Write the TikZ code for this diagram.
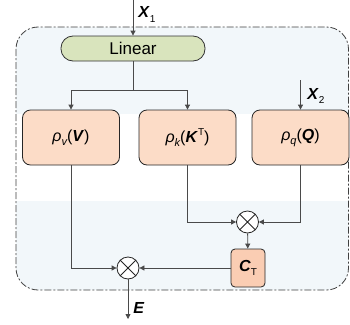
\documentclass[tikz,border=0pt]{standalone}
\usepackage{fontspec}
\setmainfont{Liberation Sans}
\usetikzlibrary{arrows.meta}
\definecolor{peach}{HTML}{FCDCC7}
\definecolor{peachd}{HTML}{FACDB3}
\definecolor{lingreen}{HTML}{D9E4BD}
\definecolor{bgblue}{HTML}{F2F7FA}
\definecolor{linegray}{HTML}{4A4A4A}
\newcommand{\lsub}[1]{\raisebox{-0.5ex}{\fontsize{10}{10}\selectfont\upshape\mdseries #1}}
\newcommand{\isub}[1]{\raisebox{-0.5ex}{\fontsize{11}{11}\selectfont\itshape #1}}
\newcommand{\lsup}[1]{\raisebox{0.8ex}{\fontsize{10}{10}\selectfont\upshape\mdseries #1}}
\newcommand{\bi}[1]{\textbf{\textit{#1}}}
\begin{document}
\begin{tikzpicture}[x=1pt,y=-1pt,
  line/.style={draw=linegray, line width=0.8pt},
  arr/.style={line, -{Triangle[length=5pt,width=5pt]}},
  pbox/.style={draw=black!85, fill=peach, rounded corners=8pt, line width=0.8pt,
    minimum width=97pt, minimum height=55pt, inner sep=0pt,
    font=\fontsize{16}{16}\selectfont},
  linbox/.style={draw=black!80, fill=lingreen, rounded corners=12pt, line width=0.8pt,
    minimum width=144pt, minimum height=25pt, inner sep=0pt,
    font=\fontsize{17}{17}\selectfont},
  ctbox/.style={draw=black!85, fill=peachd, rounded corners=4pt, line width=0.8pt,
    minimum width=34pt, minimum height=38pt, inner sep=0pt,
    font=\fontsize{16}{16}\selectfont},
  mult/.style={circle, draw=black!85, fill=white, line width=0.8pt,
    minimum size=22pt, inner sep=0pt,
    path picture={\draw[black!85, line width=0.8pt]
      (path picture bounding box.north west) -- (path picture bounding box.south east)
      (path picture bounding box.north east) -- (path picture bounding box.south west);}},
  lab/.style={font=\fontsize{16}{16}\selectfont, inner sep=0pt},
  frame/.style={draw=black!75, line width=0.8pt, dash pattern=on 7pt off 2pt on 2pt off 2pt,
    rounded corners=22pt}
]
\useasboundingbox (0,0) rectangle (350,324);
% background
\begin{scope}
  \clip[rounded corners=22pt] (16,27) rectangle (348.5,290);
  \fill[bgblue] (0,0) rectangle (350,324);
  \fill[white] (0,114) rectangle (350,201);
\end{scope}
\draw[frame] (16,27) rectangle (348.5,290);

% nodes
\node[linbox] (lin) at (133,48.5) {Linear};
\node[pbox] (v) at (71,137.5) {\textit{ρ}\isub{v}(\bi{V})};
\node[pbox] (k) at (187.5,137.5) {\textit{ρ}\isub{k}(\bi{K}\lsup{T})};
\node[pbox] (q) at (300.5,137.5) {\textit{ρ}\isub{q}(\bi{Q})};
\node[mult] (m1) at (247.5,222) {};
\node[ctbox] (ct) at (248,268) {\bi{C}\lsub{T}};
\node[mult] (m2) at (128,268) {};

\node[lab] (x1l) at (147,14.5) {\bi{X}\lsub{1}};
\node[lab] (x2l) at (316,96) {\bi{X}\lsub{2}};
\node[lab] (el) at (139,308) {\bi{E}};

\coordinate (x1) at (133,0);
\coordinate (x2) at (300.5,80);
\coordinate (br) at (133,90);
\coordinate (e) at (128,319);

% connectors
\draw[arr] (x1) -- (lin);
\draw[line] (lin) -- (br);
\draw[arr] (br) -| (v);
\draw[arr] (br) -| (k);
\draw[arr] (x2) -- (q);
\draw[arr] (k) |- (m1);
\draw[arr] (q) |- (m1);
\draw[arr] (m1) -- (ct);
\draw[arr] (v) |- (m2);
\draw[arr] (ct) -- (m2);
\draw[arr] (m2) -- (e);
\end{tikzpicture}
\end{document}
